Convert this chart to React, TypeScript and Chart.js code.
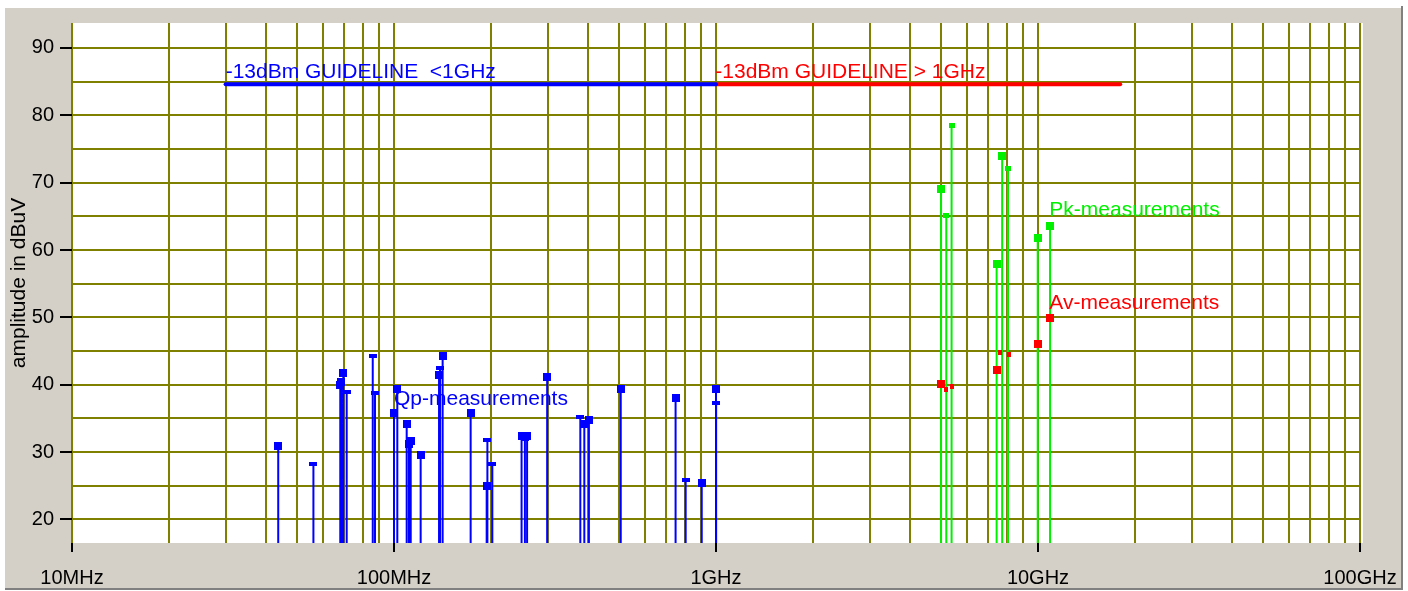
import { useEffect, useRef } from 'react';
import { Chart, registerables } from 'chart.js';

Chart.register(...registerables);

// ---- axes ----
const FREQ_MIN = 10; // MHz
const FREQ_MAX = 100000; // MHz
const LEVEL_MIN = 16.5;
const LEVEL_MAX = 93.7;

const xLabelFreqs = [10, 100, 1000, 10000, 100000];
const xLabelTexts = ['10MHz', '100MHz', '1GHz', '10GHz', '100GHz'];
const xMinorMultipliers = [1, 2, 3, 4, 5, 6, 7, 8, 9];
const yGridLevels = [20, 25, 30, 35, 40, 45, 50, 55, 60, 65, 70, 75, 80, 85, 90];
const yLabelLevels = [20, 30, 40, 50, 60, 70, 80, 90];
const yTitle = 'amplitude in dBuV';

// ---- guideline ----
const guidelineLevel = 84.6;
const guidelineLowFreqs = [30, 1000];
const guidelineHighFreqs = [1000, 18000];

// ---- Qp measurements (MHz, dBuV) ----
const qpFreqs = [43.7, 68.1, 68.6, 69.6, 100, 102.4, 109.5, 111.3, 112.7, 121, 138, 141.6, 173, 194, 249, 255, 259, 299, 390, 403, 506, 749, 903, 1000];
const qpLevels = [30.9, 39.9, 40.4, 41.7, 35.8, 39.3, 34.2, 31.2, 31.7, 29.6, 41.4, 44.2, 35.8, 24.9, 32.4, 32.3, 32.4, 41.1, 34.2, 34.7, 39.3, 38.0, 25.4, 39.3];
const qpSideFreqs = [56.2, 71.3, 85.9, 87.3, 139, 195, 202, 379, 805, 1001];
const qpSideLevels = [28.3, 38.9, 44.3, 38.8, 42.5, 31.8, 28.3, 35.2, 25.9, 37.3];

// ---- Pk measurements ----
const pkFreqs = [5000, 7440, 7740, 9980, 10900];
const pkLevels = [69.0, 57.9, 74.0, 61.8, 63.6];
const pkSideFreqs = [5190, 5390, 8070];
const pkSideLevels = [65.1, 78.5, 72.1];

// ---- Av measurements ----
const avFreqs = [5000, 7440, 9980, 10900];
const avLevels = [40.1, 42.2, 46.0, 49.9];
const avSideFreqs = [5190, 5390, 7620, 8120];
const avSideLevels = [39.3, 39.7, 44.8, 44.5];

// ---- text annotations ----
const noteTexts = ['-13dBm GUIDELINE  <1GHz', '-13dBm GUIDELINE > 1GHz', 'Qp-measurements', 'Pk-measurements', 'Av-measurements'];
const noteFreqs = [30, 995, 100, 10840, 10840];
const noteLevels = [85.5, 85.5, 37.0, 65.1, 51.2];

const BLUE = '#0000ff';
const RED = '#ff0000';
const GREEN = '#00f000';
const OLIVE = '#808000';
const noteColors = [BLUE, RED, BLUE, GREEN, RED];
const FONT = "'Liberation Sans', Arial, sans-serif";

function pts(f: number[], l: number[]) {
  return f.map((x, i) => ({ x, y: l[i] }));
}

function stems(f: number[], l: number[]) {
  const all = pts(f, l).sort((a, b) => a.x - b.x);
  const out: { x: number; y: number | null }[] = [];
  all.forEach((p) => {
    out.push({ x: p.x, y: LEVEL_MIN }, { x: p.x, y: p.y }, { x: p.x, y: null });
  });
  return out;
}

function rectMarker(color: string, w: number, h: number) {
  const c = document.createElement('canvas');
  c.width = w;
  c.height = h;
  const g = c.getContext('2d');
  if (g) {
    g.fillStyle = color;
    g.fillRect(0, 0, w, h);
  }
  return c;
}

const isDecade = (v: number) => Math.abs(Math.log10(v) - Math.round(Math.log10(v))) < 1e-9;

export default function App() {
  const ref = useRef<HTMLCanvasElement>(null);

  useEffect(() => {
    const canvas = ref.current;
    if (!canvas) return;

    const xTicks: number[] = [];
    xLabelFreqs.slice(0, -1).forEach((d) => xMinorMultipliers.forEach((k) => xTicks.push(d * k)));
    xTicks.push(xLabelFreqs[xLabelFreqs.length - 1]);

    const markerDs = (data: { x: number; y: number }[], style: HTMLCanvasElement) => ({
      type: 'scatter' as const,
      data,
      pointStyle: style,
      pointRadius: 4,
      pointHoverRadius: 4,
      showLine: false,
    });
    const lineDs = (data: any[], color: string, width: number, cap: CanvasLineCap = 'butt') => ({
      type: 'line' as const,
      data,
      borderColor: color,
      borderWidth: width,
      borderCapStyle: cap,
      pointRadius: 0,
      pointHoverRadius: 0,
      spanGaps: false,
      tension: 0,
      fill: false,
    });

    const bgPlugin = {
      id: 'plotBg',
      beforeDraw(chart: any) {
        const { ctx, chartArea } = chart;
        ctx.save();
        ctx.fillStyle = '#ffffff';
        ctx.fillRect(chartArea.left, chartArea.top, chartArea.right - chartArea.left + 3, chartArea.bottom - chartArea.top);
        ctx.restore();
      },
    };

    const notesPlugin = {
      id: 'notes',
      afterDatasetsDraw(chart: any) {
        const { ctx, scales } = chart;
        ctx.save();
        ctx.font = `21px ${FONT}`;
        ctx.textAlign = 'left';
        ctx.textBaseline = 'alphabetic';
        noteTexts.forEach((t, i) => {
          ctx.fillStyle = noteColors[i];
          ctx.fillText(t, scales.x.getPixelForValue(noteFreqs[i]), scales.y.getPixelForValue(noteLevels[i]));
        });
        ctx.restore();
      },
    };

    const chart = new Chart(canvas, {
      type: 'scatter',
      data: {
        datasets: [
          markerDs(pts(avFreqs, avLevels), rectMarker(RED, 8, 8)),
          markerDs(pts(avSideFreqs, avSideLevels), rectMarker(RED, 4, 5)),
          markerDs(pts(pkFreqs, pkLevels), rectMarker(GREEN, 8, 8)),
          markerDs(pts(pkSideFreqs, pkSideLevels), rectMarker(GREEN, 6, 5)),
          markerDs(pts(qpFreqs, qpLevels), rectMarker(BLUE, 8, 8)),
          markerDs(pts(qpSideFreqs, qpSideLevels), rectMarker(BLUE, 8, 4)),
          lineDs(stems(qpFreqs.concat(qpSideFreqs), qpLevels.concat(qpSideLevels)), BLUE, 2),
          lineDs(stems(pkFreqs.concat(pkSideFreqs), pkLevels.concat(pkSideLevels)), GREEN, 2),
          lineDs(guidelineLowFreqs.map((x) => ({ x, y: guidelineLevel })), BLUE, 4, 'round'),
          lineDs(guidelineHighFreqs.map((x) => ({ x, y: guidelineLevel })), RED, 4, 'round'),
        ] as any,
      },
      options: {
        animation: false,
        responsive: false,
        events: [],
        layout: { padding: { top: 23, right: 48, bottom: 0, left: 0 } },
        plugins: { legend: { display: false }, tooltip: { enabled: false } },
        scales: {
          x: {
            type: 'logarithmic',
            min: FREQ_MIN,
            max: FREQ_MAX,
            afterBuildTicks: (s: any) => {
              s.ticks = xTicks.map((value) => ({ value }));
            },
            afterFit: (s: any) => {
              s.height = 48;
              s.paddingLeft = 0;
              s.paddingRight = 0;
            },
            ticks: {
              autoSkip: false,
              maxRotation: 0,
              minRotation: 0,
              padding: 14,
              color: '#000',
              font: { family: FONT, size: 20 },
              callback: (v: any) => {
                const i = xLabelFreqs.indexOf(Number(v));
                return i >= 0 ? xLabelTexts[i] : '';
              },
            },
            grid: {
              color: OLIVE,
              lineWidth: 2,
              drawTicks: true,
              tickLength: 9,
              tickWidth: 2,
              tickColor: (c: any) => (c.tick && isDecade(c.tick.value) ? '#000' : 'rgba(0,0,0,0)'),
            },
            border: { display: false },
          },
          y: {
            type: 'linear',
            min: LEVEL_MIN,
            max: LEVEL_MAX,
            afterBuildTicks: (s: any) => {
              s.ticks = yGridLevels.map((value) => ({ value }));
            },
            afterFit: (s: any) => {
              s.width = 72;
              s.paddingTop = 0;
              s.paddingBottom = 0;
            },
            ticks: {
              padding: 6,
              color: '#000',
              font: { family: FONT, size: 20 },
              callback: (v: any) => (yLabelLevels.includes(Number(v)) ? String(v) : ''),
            },
            grid: {
              color: OLIVE,
              lineWidth: 2,
              drawTicks: true,
              tickLength: 12,
              tickWidth: 2,
              tickColor: (c: any) => (c.tick && yLabelLevels.includes(c.tick.value) ? '#000' : 'rgba(0,0,0,0)'),
            },
            border: { display: false },
            title: {
              display: true,
              text: yTitle,
              color: '#000',
              font: { family: FONT, size: 21 },
              padding: { top: 7, bottom: 0 },
            },
          },
        },
      } as any,
      plugins: [bgPlugin, notesPlugin],
    });

    return () => chart.destroy();
  }, []);

  return (
    <div style={{ position: 'absolute', left: 0, top: 0, width: 1408, height: 591, background: '#ffffff', overflow: 'hidden' }}>
      <div style={{ position: 'absolute', left: 5, top: 8, width: 1396, height: 580, background: '#d4d0c8' }} />
      <div style={{ position: 'absolute', left: 1401, top: 6, width: 2, height: 584, background: '#808080' }} />
      <div style={{ position: 'absolute', left: 5, top: 588, width: 1398, height: 2, background: '#808080' }} />
      <canvas ref={ref} width={1408} height={591} style={{ position: 'absolute', left: 0, top: 0, width: 1408, height: 591 }} />
    </div>
  );
}
